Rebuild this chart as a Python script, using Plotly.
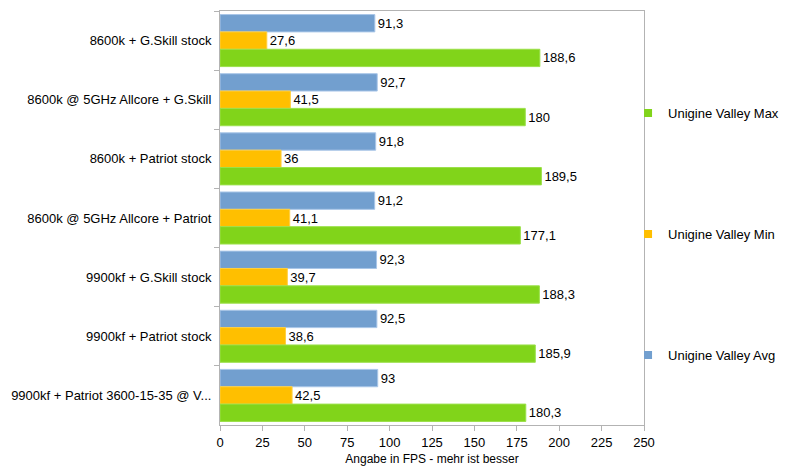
import plotly.graph_objects as go

categories = [
    "8600k + G.Skill stock",
    "8600k @ 5GHz Allcore + G.Skill",
    "8600k + Patriot stock",
    "8600k @ 5GHz Allcore + Patriot",
    "9900kf + G.Skill stock",
    "9900kf + Patriot stock",
    "9900kf + Patriot 3600-15-35 @ V...",
]
avg_fps = [91.3, 92.7, 91.8, 91.2, 92.3, 92.5, 93]
min_fps = [27.6, 41.5, 36, 41.1, 39.7, 38.6, 42.5]
max_fps = [188.6, 180, 189.5, 177.1, 188.3, 185.9, 180.3]
x_ticks = [0, 25, 50, 75, 100, 125, 150, 175, 200, 225, 250]


def de_num(v):
    return ("%g" % v).replace(".", ",")


series = [
    ("Unigine Valley Avg", avg_fps, "#729fcf", "#a9c6e8", "legend3"),
    ("Unigine Valley Min", min_fps, "#ffbf00", "#ffcf40", "legend2"),
    ("Unigine Valley Max", max_fps, "#81d41a", "#9be04a", "legend"),
]

fig = go.Figure()
for name, vals, col, edge, leg in series:
    fig.add_trace(go.Bar(
        y=categories, x=vals, name=name, orientation="h",
        marker=dict(color=col, line=dict(color=edge, width=1)),
        text=[de_num(v) for v in vals], textposition="outside",
        textfont=dict(size=13, color="#000000"), cliponaxis=False,
        showlegend=False,
    ))
    # legend entry with a small square symbol
    fig.add_trace(go.Scatter(
        x=[None], y=[None], mode="markers", name=name,
        marker=dict(symbol="square", size=8, color=col),
        legend=leg, showlegend=True,
    ))

leg_common = dict(x=0.79, xref="container", yref="container",
                  xanchor="left", yanchor="middle",
                  font=dict(size=13, color="#000000"),
                  bgcolor="rgba(0,0,0,0)", itemwidth=30)

fig.update_layout(
    width=795, height=469,
    margin=dict(l=220, r=151, t=11, b=44, autoexpand=False),
    paper_bgcolor="white", plot_bgcolor="white",
    font=dict(family="Liberation Sans, Arial, sans-serif", size=13, color="#000000"),
    barmode="group", bargap=0.12, bargroupgap=0,
    showlegend=True,
    legend=dict(y=0.759, **leg_common),
    legend2=dict(y=0.501, **leg_common),
    legend3=dict(y=0.243, **leg_common),
    xaxis=dict(
        range=[0, 250], tickvals=x_ticks, ticks="outside", ticklen=5,
        tickcolor="#b3b3b3", showgrid=False, zeroline=False,
        showline=True, linecolor="#b3b3b3", mirror=True,
        tickfont=dict(size=13),
        title=dict(text="Angabe in FPS - mehr ist besser", font=dict(size=12), standoff=6),
    ),
    yaxis=dict(
        autorange="reversed", ticks="outside", ticklen=5, tickson="boundaries",
        tickcolor="#b3b3b3", showgrid=False, showline=True, linecolor="#b3b3b3",
        mirror=True, tickfont=dict(size=13), ticklabelstandoff=5,
    ),
)

fig.write_html("out.html", config={"displayModeBar": False},
               post_script="document.body.style.margin='0';")
